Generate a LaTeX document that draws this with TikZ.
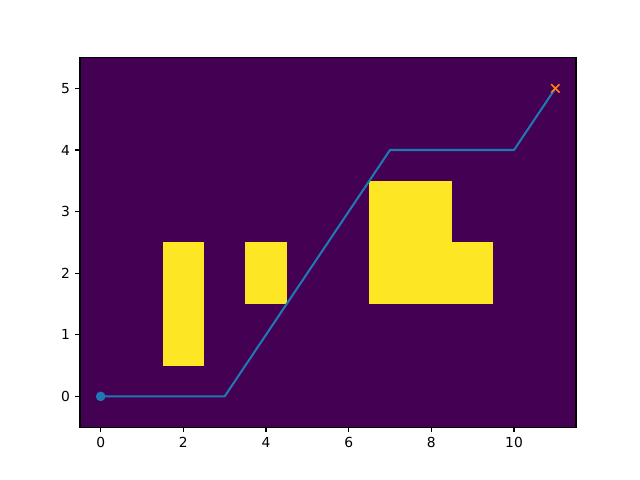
\documentclass[tikz,border=0pt]{standalone}
\usepackage{fontspec}
\setmainfont{DejaVu Sans}
\usepackage{tikz}
\definecolor{ViridisLow}{HTML}{440154}
\definecolor{ViridisHigh}{HTML}{FDE725}
\definecolor{PathBlue}{HTML}{1F77B4}
\definecolor{GoalOrange}{HTML}{FF7F0E}
\begin{document}
\begin{tikzpicture}[
    x=0.41333in,y=0.616in,
    cell/.style={fill=ViridisHigh, draw=none},
    spine/.style={draw=black, line width=0.8pt},
    tick/.style={draw=black, line width=0.8pt},
    ticklab/.style={font=\fontsize{10}{12}\selectfont, inner sep=0pt},
    route/.style={draw=PathBlue, line width=1.5pt, line join=round, line cap=round}
  ]
    \useasboundingbox (-1.0067in,-0.836in) rectangle (5.3933in,3.964in);
    % background grid
    \fill[ViridisLow] (-0.5,-0.5) rectangle (11.5,5.5);
    % obstacles
    \fill[cell] (1.5,0.5) rectangle (2.5,2.5);
    \fill[cell] (3.5,1.5) rectangle (4.5,2.5);
    \fill[cell] (6.5,1.5) rectangle (8.5,3.5);
    \fill[cell] (8.5,1.5) rectangle (9.5,2.5);
    % path
    \coordinate (start) at (0,0);
    \coordinate (goal) at (11,5);
    \draw[route] (start) -- (3,0) -- (7,4) -- (10,4) -- (goal);
    \fill[PathBlue] (start) circle[radius=3.5pt];
    \draw[GoalOrange, line width=1.1pt] ([shift={(-3pt,-3pt)}]goal) -- ([shift={(3pt,3pt)}]goal)
      ([shift={(-3pt,3pt)}]goal) -- ([shift={(3pt,-3pt)}]goal);
    % axes
    \draw[spine] (-0.5,-0.5) rectangle (11.5,5.5);
    \foreach \x in {0,2,4,6,8,10} {
      \draw[tick] (\x,-0.5) -- ++(0,-3.5pt);
      \node[ticklab, anchor=north] (xt\x) at ([yshift=-7pt]\x,-0.5) {\x};
    }
    \foreach \y in {0,...,5} {
      \draw[tick] (-0.5,\y) -- ++(-3.5pt,0);
      \node[ticklab, anchor=east] (yt\y) at ([xshift=-7pt]-0.5,\y) {\y};
    }
  \end{tikzpicture}
\end{document}
